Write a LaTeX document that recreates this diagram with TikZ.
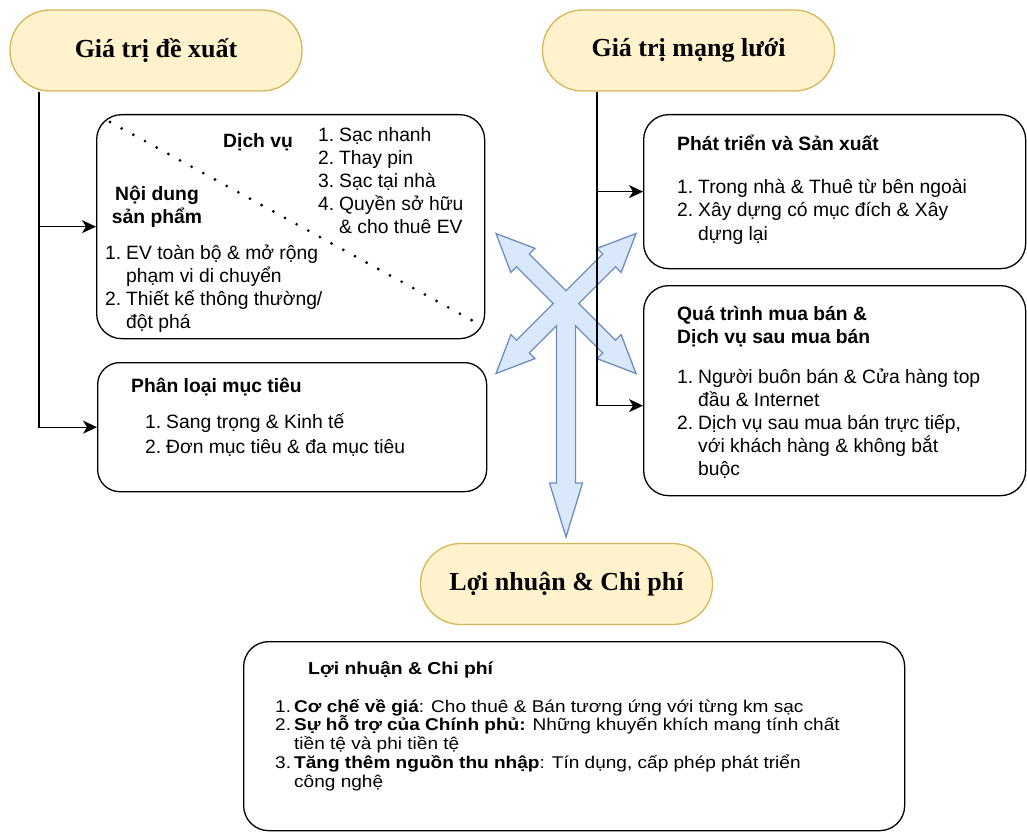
\documentclass[tikz,border=0pt]{standalone}
\usepackage{fontspec}
\setmainfont{Liberation Sans}
\newfontfamily\headfont{Liberation Serif}
\newfontfamily\widefont[FakeStretch=1.12]{Liberation Sans}
\usetikzlibrary{arrows.meta}
\definecolor{pillfill}{HTML}{FFF2CC}
\definecolor{pillline}{HTML}{D6B656}
\definecolor{arrfill}{HTML}{DAE8FC}
\definecolor{arrline}{HTML}{6C8EBF}
% numbered list line and its continuation line
\newcommand\itm[3][21pt]{\makebox[#1][l]{#2}#3}
\newcommand\cnt[2][21pt]{\hspace*{#1}#2}
\newcommand\bodyfont{\fontsize{19.3}{23}\selectfont}

\begin{document}
\begin{tikzpicture}[x=1pt,y=-1pt,
  pill/.style={draw=pillline, fill=pillfill, line width=1.3pt, rounded corners=40pt,
    minimum width=292pt, minimum height=81pt, inner sep=0pt,
    font=\headfont\bfseries\fontsize{26}{30}\selectfont},
  card/.style={draw=black, line width=1.3pt, rounded corners=25pt, inner sep=0pt, anchor=north west},
  txt/.style={inner sep=0pt, anchor=base west},
  conn/.style={draw=black, line width=1.3pt, -{Stealth[length=14pt,width=13pt,inset=4pt]}},
  dotline/.style={line width=3.1pt, line cap=round, dash pattern=on 0pt off 13.3pt},
  bigarrow/.style={draw=arrline, fill=arrfill, line width=1.3pt, line join=miter}
]
\useasboundingbox (0,0) rectangle (1027,832);

% section headers
\node[pill] (h1) at (156,50.5) {Giá trị đề xuất};
\node[pill] (h2) at (688.5,50.5) {Giá trị mạng lưới};
\node[pill] (h3) at (566.5,584) {Lợi nhuận \& Chi phí};

% content cards
\node[card, minimum width=388pt, minimum height=224pt] (boxA) at (96,114) {};
\node[card, minimum width=389pt, minimum height=129pt, rounded corners=22pt] (boxB) at (97,362) {};
\node[card, minimum width=382pt, minimum height=154pt] (boxC) at (643,114) {};
\node[card, minimum width=382pt, minimum height=210pt] (boxD) at (643,285) {};
\node[card, minimum width=661pt, minimum height=189pt] (boxE) at (243,641) {};

% diagonal divider in the product/service card
\draw[dotline] (110,122) -- (475,322);

% four-way cross with the downward arrow
\draw[bigarrow] (566,290.77) -- (602.77,254.01) -- (597.11,248.35) -- (636,233.5)
  -- (621.15,272.39) -- (615.49,266.73) -- (578.73,303.5) -- (615.49,340.27)
  -- (621.15,334.61) -- (636,373.5) -- (597.11,358.65) -- (602.77,352.99)
  -- (575.5,325.72) -- (575.5,483) -- (582.5,483) -- (566,537) -- (549.5,483)
  -- (556.5,483) -- (556.5,325.72) -- (529.23,352.99) -- (534.89,358.65)
  -- (496,373.5) -- (510.85,334.61) -- (516.51,340.27) -- (553.27,303.5)
  -- (516.51,266.73) -- (510.85,272.39) -- (496,233.5) -- (534.89,248.35)
  -- (529.23,254.01) -- cycle;

% connectors
\coordinate (trunkL) at (39,0);
\coordinate (trunkR) at (597,0);
\draw[conn] (trunkL |- h1.south) |- (boxB.west);
\draw[conn] (trunkL |- boxA.west) -- (boxA.west);
\draw[conn] (trunkR |- h2.south) |- ([yshift=-15pt]boxD.west);
\draw[conn] (trunkR |- boxC.west) -- (boxC.west);

% product / service card
\node[txt, font=\bodyfont\bfseries] (tSvc) at (223,147) {Dịch vụ};
\node[txt, font=\bodyfont] (lSvc) at (318,142) {\parbox[t]{170pt}{\itm{1.}{Sạc nhanh}\\
  \itm{2.}{Thay pin}\\ \itm{3.}{Sạc tại nhà}\\ \itm{4.}{Quyền sở hữu}\\ \cnt{\& cho thuê EV}}};
\node[txt, anchor=base, font=\bodyfont\bfseries] (tProd) at (157,200) {\parbox[t]{120pt}{\centering Nội dung\\ sản phẩm}};
\node[txt, font=\bodyfont] (lProd) at (105,259) {\parbox[t]{240pt}{\itm{1.}{EV toàn bộ \& mở rộng}\\
  \cnt{phạm vi di chuyển}\\ \itm{2.}{Thiết kế thông thường/}\\ \cnt{đột phá}}};

% target segment card
\node[txt, font=\bodyfont\bfseries] (tSeg) at (131,392) {Phân loại mục tiêu};
\node[txt, font=\fontsize{19.3}{25}\selectfont] (lSeg) at (145,428) {\parbox[t]{320pt}{\itm{1.}{Sang trọng \& Kinh tế}\\
  \itm{2.}{Đơn mục tiêu \& đa mục tiêu}}};

% development card
\node[txt, font=\bodyfont\bfseries] (tDev) at (677,150) {Phát triển và Sản xuất};
\node[txt, font=\fontsize{19.3}{23.5}\selectfont] (lDev) at (677,193) {\parbox[t]{330pt}{\itm{1.}{Trong nhà \& Thuê từ bên ngoài}\\
  \itm{2.}{Xây dựng có mục đích \& Xây}\\ \cnt{dựng lại}}};

% sales card
\node[txt, font=\bodyfont\bfseries] (tSale) at (677,320) {\parbox[t]{330pt}{Quá trình mua bán \&\\ Dịch vụ sau mua bán}};
\node[txt, font=\bodyfont] (lSale) at (677,383) {\parbox[t]{330pt}{\itm{1.}{Người buôn bán \& Cửa hàng top}\\
  \cnt{đầu \& Internet}\\ \itm{2.}{Dịch vụ sau mua bán trực tiếp,}\\ \cnt{với khách hàng \& không bắt}\\ \cnt{buộc}}};

% profit card
\node[txt, font=\widefont\fontsize{17.3}{20}\selectfont\bfseries] (tProfit) at (308,674) {Lợi nhuận \& Chi phí};
\node[txt, font=\widefont\fontsize{17}{18.8}\selectfont] (lProfit) at (275,712) {\parbox[t]{680pt}{%
  \itm[19pt]{1.}{\textbf{Cơ chế về giá}: Cho thuê \& Bán tương ứng với từng km sạc}\\
  \itm[19pt]{2.}{\textbf{Sự hỗ trợ của Chính phủ:} Những khuyến khích mang tính chất}\\
  \cnt[19pt]{tiền tệ và phi tiền tệ}\\
  \itm[19pt]{3.}{\textbf{Tăng thêm nguồn thu nhập}: Tín dụng, cấp phép phát triển}\\
  \cnt[19pt]{công nghệ}}};
\end{tikzpicture}
\end{document}
